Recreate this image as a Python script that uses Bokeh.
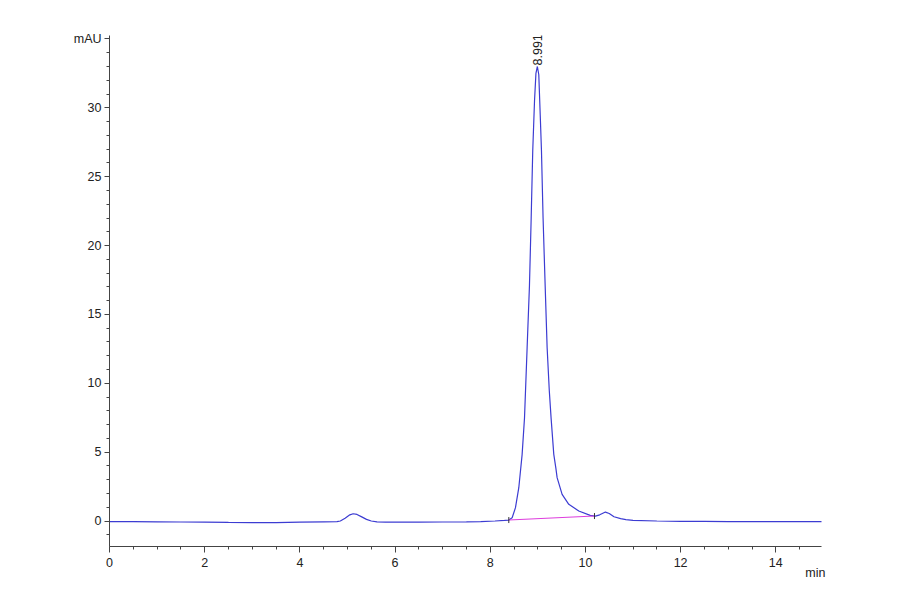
import math
from bokeh.plotting import figure
from bokeh.models import FixedTicker, Title, ColumnDataSource
from bokeh.core.properties import value
from bokeh.embed import file_html
from bokeh.resources import INLINE

# Chromatogram trace (time in min, signal in mAU)
time_min = [0.0, 0.5, 1.0, 1.5, 2.0, 2.5, 3.0, 3.5, 4.0, 4.5, 4.78, 4.85, 4.95, 5.05, 5.12,
            5.2, 5.3, 5.4, 5.5, 5.62, 5.8, 6.5, 7.0, 7.5, 7.8, 8.1, 8.3, 8.39, 8.46, 8.53,
            8.6, 8.67, 8.72, 8.775, 8.824, 8.86, 8.893, 8.93, 8.96, 8.99, 9.02, 9.05, 9.076,
            9.11, 9.15, 9.195, 9.24, 9.28, 9.335, 9.38, 9.405, 9.51, 9.65, 9.86, 10.1, 10.21,
            10.3, 10.42, 10.5, 10.6, 10.74, 10.85, 11.0, 11.5, 12.0, 12.5, 13.0, 14.0, 15.0]
signal_mau = [-0.05, -0.05, -0.06, -0.07, -0.08, -0.10, -0.11, -0.11, -0.08, -0.06, -0.05, 0.0,
              0.20, 0.45, 0.53, 0.48, 0.30, 0.12, 0.0, -0.06, -0.08, -0.08, -0.07, -0.06, -0.04,
              0.0, 0.04, 0.07, 0.24, 0.97, 2.42, 4.84, 7.5, 12.6, 17.1, 22.0, 26.9, 30.5, 32.5,
              33.0, 32.4, 29.5, 26.9, 22.0, 17.5, 12.6, 9.5, 7.4, 4.84, 3.8, 3.15, 1.94, 1.21,
              0.73, 0.41, 0.36, 0.45, 0.65, 0.55, 0.31, 0.17, 0.10, 0.05, 0.0, -0.02, -0.03,
              -0.05, -0.05, -0.05]

# Integration baseline of the main peak
baseline_time = [8.39, 10.19]
baseline_mau = [0.07, 0.36]

# Peak annotation
peak_times = [8.991]
peak_heights = [33.0]

x_ticks = [0, 2, 4, 6, 8, 10, 12, 14]
x_unit_text = "min"
y_ticks = [0, 5, 10, 15, 20, 25, 30, 35]
y_unit_text = "mAU"

FONT = "Liberation Sans Narrow, Liberation Sans, Arial, sans-serif"
AXC = "#444444"
TXC = "#222222"

p = figure(width=884, height=578, output_backend="svg", toolbar_location=None,
           x_range=(0, 14.96), y_range=(-1.85, 35.25),
           min_border_left=109, min_border_right=63, min_border_top=35, min_border_bottom=32)
p.outline_line_color = None
p.grid.grid_line_color = None
p.background_fill_color = "white"

# X axis
xa = p.xaxis[0]
xa.ticker = FixedTicker(ticks=x_ticks, minor_ticks=[i * 0.5 for i in range(0, 30)])
xa.axis_line_color = AXC
xa.major_tick_line_color = AXC
xa.minor_tick_line_color = AXC
xa.major_tick_out = 6
xa.major_tick_in = 0
xa.minor_tick_out = 3
xa.minor_tick_in = 0
xa.major_label_text_font = FONT
xa.major_label_text_font_size = "12.5px"
xa.major_label_text_color = TXC
xa.major_label_standoff = 5

# X unit label at the right end of the time axis
p.add_layout(Title(text=x_unit_text, align="right", standoff=-12, offset=-4,
                   text_font=FONT, text_font_size="12.5px", text_font_style="normal",
                   text_color=TXC), "below")

# Y axis
ya = p.yaxis[0]
ya.ticker = FixedTicker(ticks=y_ticks, minor_ticks=list(range(-1, 36)))
ya.major_label_overrides = {35: y_unit_text}
ya.axis_line_color = AXC
ya.major_tick_line_color = AXC
ya.minor_tick_line_color = AXC
ya.major_tick_out = 5
ya.major_tick_in = 0
ya.minor_tick_out = 3
ya.minor_tick_in = 0
ya.major_label_text_font = FONT
ya.major_label_text_font_size = "12.5px"
ya.major_label_text_color = TXC
ya.major_label_standoff = 3

# Trace
p.line(time_min, signal_mau, line_color="#3c3cd2", line_width=1.2)

# Integration baseline and its end markers
p.line(baseline_time, baseline_mau, line_color="#dd3ddd", line_width=1.1)
p.scatter(baseline_time, baseline_mau, marker="dash", angle=math.pi / 2, size=6,
          line_color="#333333", line_width=1)

# Peak retention time label
src = ColumnDataSource(dict(x=peak_times, y=peak_heights,
                            t=["%.3f" % t for t in peak_times]))
p.text(x="x", y="y", text="t", source=src, angle=math.pi / 2, text_align="left",
       text_baseline="middle", text_font=value(FONT), text_font_size="12.5px",
       text_color=TXC, y_offset=-1)

open("out.html", "w").write(file_html(p, INLINE))
